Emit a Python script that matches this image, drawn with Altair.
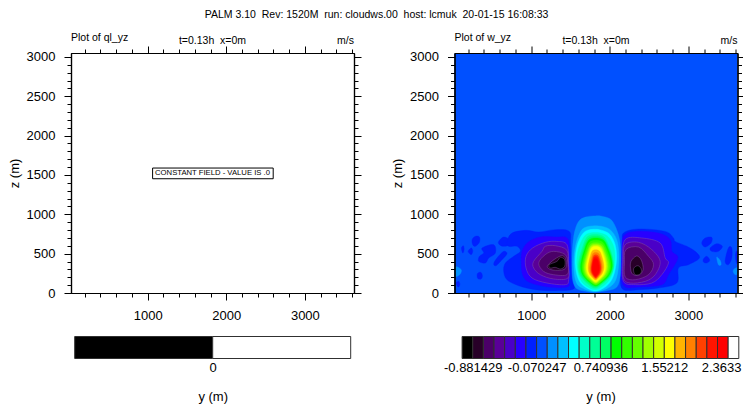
import altair as alt
import pandas as pd

FONT = "Liberation Sans"
title_text = "PALM 3.10\u00a0 Rev: 1520M\u00a0 run: cloudws.00\u00a0 host: lcmuk\u00a0 20-01-15 16:08:33"
left_name = "Plot of ql_yz"
right_name = "Plot of w_yz"
time_text = "t=0.13h\u00a0 x=0m"
unit_text = "m/s"
constant_text = "CONSTANT FIELD - VALUE IS .0"
x_title = "y (m)"
y_title = "z (m)"

x_major = [1000, 2000, 3000]
x_minor = [200, 400, 600, 800, 1200, 1400, 1600, 1800, 2200, 2400, 2600, 2800, 3200, 3400, 3600]
y_major = [0, 500, 1000, 1500, 2000, 2500, 3000]
y_minor = [100, 200, 300, 400, 600, 700, 800, 900, 1100, 1200, 1300, 1400, 1600, 1700, 1800, 1900,
           2100, 2200, 2300, 2400, 2600, 2700, 2800, 2900]

level_colors = ["#000000", "#280028", "#4b0068", "#5a0098", "#4a00c8", "#2800ff", "#0020ff", "#0050ff",
                "#0090ff", "#00c0ff", "#00ffff", "#00ffc8", "#00ff96", "#00ff64", "#00ff00", "#32ff00",
                "#64ff00", "#a0ff00", "#d2ff00", "#ffff00", "#ffb400", "#ff8000", "#ff4000", "#ff1400",
                "#ff0000", "#ffffff"]
level_edges = [-1.016626, -0.881429, -0.746232, -0.611035, -0.475838, -0.340641, -0.205444, -0.070247,
               0.06495, 0.200147, 0.335344, 0.470541, 0.605738, 0.740936, 0.876133, 1.01133, 1.146527,
               1.281724, 1.416921, 1.55212, 1.687317, 1.822514, 1.957711, 2.092908, 2.228105, 2.3633, 2.498497]
level_ticks = [-0.881429, -0.070247, 0.740936, 1.55212, 2.3633]
left_edges = [-1, 0, 1]
left_colors = ["#000000", "#ffffff"]

# Filled contours of w: (colour level, [(y, z), ...]) in metres, drawn back to front
contours = [
    (7, [(25, 0), (25, 3050), (3625, 3050), (3625, 0)]),
    (8, [(25, 318), (66, 330), (113, 288), (88, 229), (25, 212)]),
    (8, [(3624, 318), (3586, 309), (3569, 275), (3594, 233), (3624, 246)]),
    (8, [(3361, 457), (3404, 415), (3416, 360), (3382, 360)]),
    (6, [(3624, 530), (3600, 500), (3607, 400), (3624, 380)]),
    (6, [(249, 678), (291, 720), (342, 711), (342, 644), (291, 593), (257, 614)]),
    (6, [(113, 572), (138, 601), (147, 551), (130, 508)]),
    (6, [(198, 529), (240, 572), (257, 529), (236, 487)]),
    (6, [(376, 572), (524, 614), (545, 508), (460, 445), (418, 381), (333, 402), (342, 466), (397, 508)]),
    (6, [(524, 373), (566, 445), (651, 529), (693, 499), (630, 424), (553, 347)]),
    (6, [(316, 246), (359, 263), (380, 220), (363, 178), (320, 186)]),
    (6, [(45, 127), (79, 148), (92, 106), (71, 76)]),
    (6, [(587, 656), (651, 711), (723, 678), (723, 614), (651, 593), (596, 614)]),
    (6, [(3170, 635), (3213, 699), (3298, 707), (3289, 635), (3213, 584)]),
    (6, [(3277, 572), (3361, 627), (3433, 593), (3382, 529), (3298, 529)]),
    (6, [(3192, 432), (3234, 466), (3272, 415), (3234, 381), (3192, 394)]),
    (6, [(3467, 402), (3509, 572), (3552, 572), (3552, 445), (3509, 360)]),
    (6, [(757, 762), (935, 796), (1095, 775), (1307, 805), (1485, 783), (1502, 635), (1510, 381), (1519, 169),
         (1540, 51), (1307, 30), (1053, 42), (841, 93), (693, 169), (651, 275), (672, 381), (778, 466),
         (863, 529), (820, 593), (714, 593), (693, 656)]),
    (5, [(884, 529), (960, 644), (1117, 711), (1307, 711), (1468, 686), (1485, 424), (1485, 148), (1455, 76),
         (1223, 76), (977, 136), (892, 233), (875, 381)]),
    (4, [(935, 466), (1019, 572), (1180, 644), (1328, 656), (1455, 614), (1477, 381), (1477, 169), (1434, 106),
         (1201, 127), (1011, 191), (935, 318)]),
    (3, [(1032, 402), (1138, 529), (1180, 593), (1307, 601), (1455, 542), (1468, 360), (1468, 191), (1286, 178),
         (1117, 233), (1032, 318)]),
    (2, [(1096, 381), (1180, 487), (1286, 529), (1434, 487), (1468, 360), (1455, 233), (1286, 233), (1159, 275)]),
    (1, [(1210, 350), (1300, 430), (1400, 475), (1445, 410), (1440, 320), (1385, 290), (1290, 290), (1225, 310)]),
    (0, [(1231, 360), (1328, 402), (1371, 453), (1426, 424), (1426, 339), (1371, 305), (1307, 326), (1244, 318)]),
    (6, [(2175, 762), (2366, 813), (2705, 783), (2811, 699), (2832, 656), (2980, 593), (3086, 529), (3141, 445),
         (3001, 360), (2874, 318), (2853, 127), (2620, 64), (2366, 42), (2175, 42), (2133, 169), (2146, 424),
         (2163, 635)]),
    (5, [(2175, 720), (2324, 783), (2620, 762), (2768, 678), (2790, 529), (2866, 445), (2747, 233), (2662, 106),
         (2366, 76), (2197, 76), (2146, 212), (2154, 508)]),
    (4, [(2197, 678), (2408, 699), (2641, 635), (2705, 445), (2747, 381), (2662, 233), (2535, 127), (2324, 106),
         (2175, 148), (2163, 424)]),
    (3, [(2197, 614), (2366, 644), (2535, 551), (2641, 402), (2578, 233), (2451, 148), (2260, 127), (2175, 191),
         (2175, 424)]),
    (2, [(2205, 551), (2366, 584), (2493, 466), (2557, 360), (2493, 233), (2324, 169), (2197, 203), (2188, 381)]),
    (1, [(2270, 400), (2340, 470), (2400, 420), (2425, 300), (2370, 225), (2290, 240), (2265, 310)]),
    (0, [(2307, 318), (2358, 347), (2400, 305), (2391, 246), (2332, 229), (2307, 263)]),
    (8, [(1815, 980), (1690, 965), (1604, 910), (1553, 780), (1528, 593), (1519, 380), (1528, 190), (1570, 63),
         (1690, 21), (1815, 8), (1985, 34), (2090, 76), (2133, 212), (2142, 466), (2125, 678), (2070, 847),
         (2006, 940), (1900, 975)]),
    (9, [(1815, 855), (1670, 825), (1600, 720), (1555, 550), (1542, 360), (1563, 170), (1625, 76), (1815, 15),
         (2000, 76), (2085, 190), (2117, 424), (2100, 635), (2045, 760), (1960, 830)]),
    (10, [(1815, 810), (1690, 785), (1612, 680), (1570, 530), (1561, 360), (1595, 190), (1668, 90), (1815, 25),
          (1960, 90), (2045, 212), (2087, 424), (2070, 610), (2006, 740), (1920, 790)]),
    (11, [(1815, 770), (1700, 745), (1630, 640), (1590, 510), (1582, 360), (1615, 200), (1680, 105), (1815, 42),
          (1945, 110), (2025, 225), (2065, 424), (2050, 590), (1985, 710), (1905, 755)]),
    (12, [(1814, 745), (1710, 711), (1651, 574), (1611, 437), (1597, 320), (1629, 211), (1719, 115), (1814, 60),
          (1905, 115), (2005, 211), (2050, 334), (2036, 457), (1996, 581), (1928, 711)]),
    (13, [(1818, 722), (1720, 690), (1664, 560), (1626, 431), (1613, 321), (1643, 217), (1728, 127), (1818, 75),
          (1903, 127), (1997, 217), (2040, 334), (2027, 450), (1989, 567), (1925, 690)]),
    (14, [(1822, 700), (1730, 670), (1678, 548), (1642, 425), (1630, 322), (1658, 224), (1738, 139), (1822, 90),
          (1902, 139), (1990, 224), (2030, 334), (2018, 444), (1982, 554), (1922, 670)]),
    (15, [(1823, 670), (1739, 642), (1692, 528), (1659, 414), (1648, 317), (1673, 225), (1746, 146), (1823, 100),
          (1896, 146), (1976, 225), (2012, 328), (2001, 431), (1968, 533), (1914, 642)]),
    (16, [(1823, 640), (1748, 614), (1705, 508), (1675, 402), (1665, 311), (1688, 227), (1754, 152), (1823, 110),
          (1889, 152), (1962, 227), (1995, 322), (1985, 417), (1955, 513), (1906, 614)]),
    (17, [(1822, 620), (1754, 595), (1715, 496), (1689, 397), (1680, 313), (1701, 234), (1760, 165), (1822, 125),
          (1881, 165), (1946, 234), (1975, 323), (1966, 412), (1940, 501), (1895, 595)]),
    (18, [(1822, 605), (1761, 582), (1727, 488), (1703, 394), (1695, 314), (1714, 238), (1767, 173), (1822, 135),
          (1875, 173), (1934, 238), (1960, 323), (1952, 408), (1928, 492), (1888, 582)]),
    (19, [(1822, 590), (1766, 568), (1735, 479), (1713, 390), (1706, 314), (1723, 243), (1771, 181), (1822, 145),
          (1870, 181), (1923, 243), (1947, 323), (1940, 403), (1918, 483), (1882, 568)]),
    (20, [(1821, 550), (1775, 531), (1749, 454), (1731, 377), (1725, 311), (1739, 250), (1779, 196), (1821, 165),
          (1861, 196), (1905, 250), (1925, 319), (1919, 388), (1901, 458), (1871, 531)]),
    (21, [(1822, 515), (1785, 498), (1764, 431), (1750, 364), (1745, 307), (1756, 254), (1788, 207), (1822, 180),
          (1854, 207), (1889, 254), (1905, 314), (1900, 374), (1886, 435), (1862, 498)]),
    (22, [(1822, 485), (1792, 470), (1776, 411), (1764, 352), (1760, 302), (1769, 255), (1795, 214), (1822, 190),
          (1848, 214), (1877, 255), (1890, 308), (1886, 361), (1874, 414), (1855, 470)]),
    (23, [(1822, 465), (1797, 452), (1783, 399), (1773, 346), (1770, 301), (1778, 258), (1799, 221), (1822, 200),
          (1843, 221), (1867, 258), (1878, 306), (1875, 354), (1865, 401), (1849, 452)]),
    (24, [(1820, 440), (1800, 429), (1788, 384), (1781, 339), (1778, 301), (1784, 265), (1801, 233), (1820, 215),
          (1837, 233), (1856, 265), (1865, 305), (1862, 346), (1855, 386), (1841, 429)]),
]

rows = []
for poly, (level, pts) in enumerate(contours):
    edge = "#8a60a8" if level <= 4 else level_colors[level]
    for i, (py, pz) in enumerate(pts):
        rows.append({"poly": poly, "idx": i, "y": py, "z": pz,
                     "fill": level_colors[level], "edge": edge})
contour_df = pd.DataFrame(rows)

XS = alt.Scale(domain=[25, 3625], nice=False, zero=False)
YS = alt.Scale(domain=[0, 3050], nice=False, zero=False)
W, H = 283, 240
axis_df = pd.DataFrame({"y": [1000], "z": [1000]})


def axis_layer(xv, yv, xo, yo, tick, labels=False, title=None):
    xa = dict(values=xv, orient=xo, tickSize=tick, tickColor="black", tickWidth=1, grid=False,
              labels=labels, domain=True, domainColor="black", domainWidth=1.2, zindex=1,
              labelFont=FONT, labelFontSize=13, labelColor="black", labelPadding=9, labelExpr="'' + datum.value",
              title=None)
    ya = dict(values=yv, orient=yo, tickSize=tick, tickColor="black", tickWidth=1, grid=False,
              labels=labels, domain=True, domainColor="black", domainWidth=1.2, zindex=1,
              labelFont=FONT, labelFontSize=13, labelColor="black", labelPadding=9, labelExpr="'' + datum.value",
              labelFlush=False, title=title)
    if title:
        ya.update(titleFont=FONT, titleFontSize=13, titleFontWeight="normal", titleColor="black", titlePadding=5)
    return alt.Chart(axis_df).mark_point(opacity=0).encode(
        x=alt.X("y:Q", scale=XS, axis=alt.Axis(**xa)),
        y=alt.Y("z:Q", scale=YS, axis=alt.Axis(**ya)),
    )


def header(txt, xv, align, dy):
    return alt.Chart(pd.DataFrame({"t": [txt]})).mark_text(
        font=FONT, fontSize=10.5, align=align, baseline="middle", dy=dy, color="black", clip=False
    ).encode(text="t:N", x=alt.X(datum=xv, scale=XS, axis=None), y=alt.Y(datum=3050, scale=YS, axis=None))


def panel(name, content):
    layers = content + [
        axis_layer(x_major, y_major, "bottom", "left", 7, True, y_title),
        axis_layer(x_minor, y_minor, "bottom", "left", 4),
        axis_layer(x_major, y_major, "top", "right", 7),
        axis_layer(x_minor, y_minor, "top", "right", 4),
        header(name, 25, "left", -15),
        header(time_text, 1825, "center", -12),
        header(unit_text, 3625, "right", -12),
    ]
    return alt.layer(*layers).resolve_axis(x="independent", y="independent").properties(width=W, height=H)


def colorbar(edges, colors, ticks, rng):
    df = pd.DataFrame({"a": edges[:-1], "b": edges[1:], "c": colors})
    return alt.Chart(df).mark_rect(stroke="#303030", strokeWidth=1).encode(
        x=alt.X("a:Q", scale=alt.Scale(domain=[edges[0], edges[-1]], range=rng, nice=False, zero=False),
                axis=alt.Axis(values=ticks, labelExpr="'' + datum.value", domain=False, ticks=False, grid=False,
                              labelFont=FONT, labelFontSize=13, labelColor="black", labelPadding=3,
                              labelFlush=False, labelOverlap=False,
                              labelOffset={"condition": {"test": "datum.value > 2", "value": -7}, "value": 0},
                              title=x_title, titleFont=FONT, titleFontSize=13, titleFontWeight="normal",
                              titleColor="black", titlePadding=16)),
        x2="b:Q",
        fill=alt.Fill("c:N", scale=None),
    ).properties(width=W, height=22)


box_df = pd.DataFrame({"x1": [1063], "x2": [2597], "z1": [1452], "z2": [1588], "t": [constant_text]})
box = alt.Chart(box_df).mark_rect(fill="white", stroke="black", strokeWidth=1).encode(
    x=alt.X("x1:Q", scale=XS, axis=None), x2="x2:Q", y=alt.Y("z1:Q", scale=YS, axis=None), y2="z2:Q")
box_text = alt.Chart(box_df).mark_text(font=FONT, fontSize=7.7, color="black").encode(
    x=alt.X(datum=1825, scale=XS, axis=None), y=alt.Y(datum=1520, scale=YS, axis=None), text="t:N")

field = alt.Chart(contour_df).mark_line(interpolate="cardinal-closed", clip=True, strokeWidth=0.4).encode(
    x=alt.X("y:Q", scale=XS, axis=None),
    y=alt.Y("z:Q", scale=YS, axis=None),
    detail="poly:N",
    order="idx:Q",
    fill=alt.Fill("fill:N", scale=None),
    stroke=alt.Stroke("edge:N", scale=None),
)

chart = alt.concat(
    panel(left_name, [box, box_text]),
    panel(right_name, [field]),
    colorbar(left_edges, left_colors, [0], [3.7, 279.7]),
    colorbar(level_edges, level_colors, level_ticks, [7.6, 284.3]),
    columns=2, spacing={"row": 43.5, "column": 100.5},
    bounds="flush",
).properties(
    title=alt.TitleParams(title_text, font=FONT, fontSize=10.5, fontWeight="normal", color="black",
                          anchor="middle", offset=13),
    padding={"left": 0, "top": 1, "right": -2.5, "bottom": 0},
).configure_view(stroke=None).configure_legend(disable=True)

chart.save("out.html", embed_options={"renderer": "svg", "actions": False})
